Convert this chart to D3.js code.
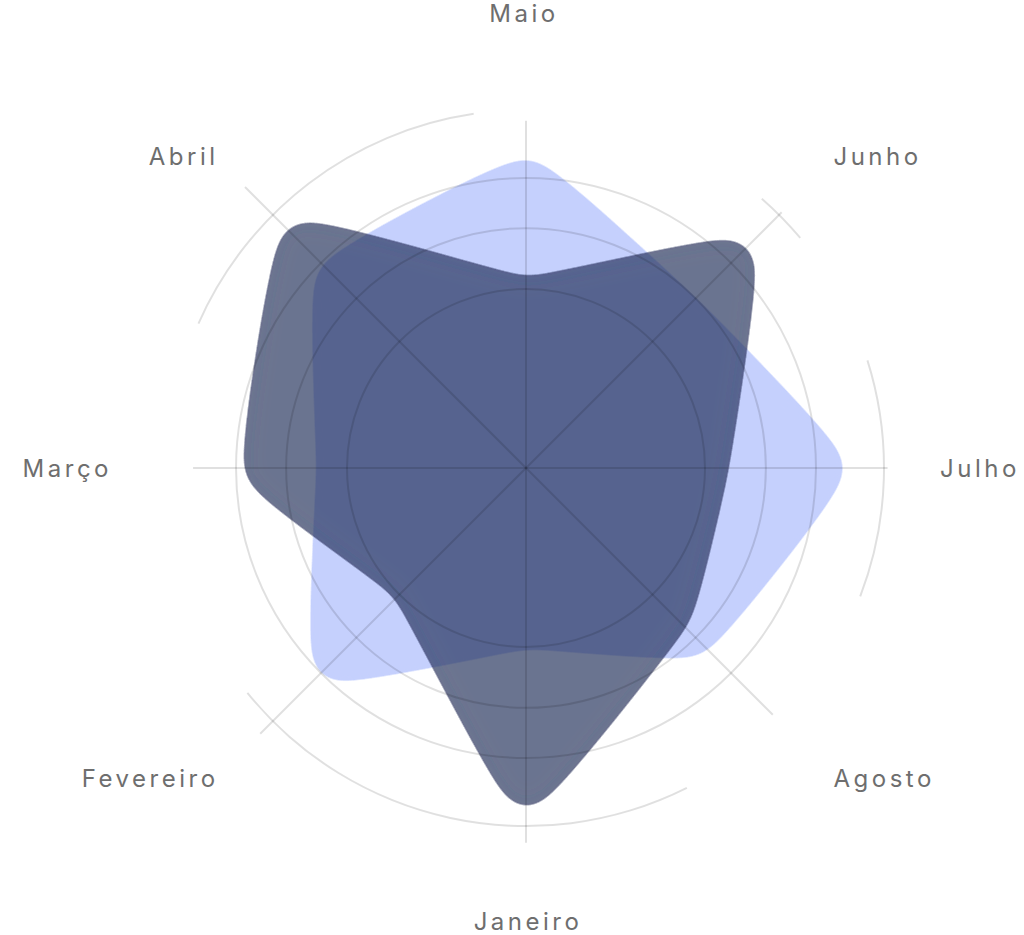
<!DOCTYPE html>
<html><head><meta charset="utf-8">
<script src="https://cdn.jsdelivr.net/npm/d3@7"></script>
<style>html,body{margin:0;padding:0;background:#fff;} svg{display:block;}</style>
</head><body><svg id="chart" width="1024" height="935"></svg>
<script>
// ---- data ----
const months = ["Janeiro","Fevereiro","Março","Abril","Maio","Junho","Julho","Agosto"];
const seriesDark = [88.8, 45.5, 72.8, 88.5, 47.4, 81.5, 50.5, 57.0];
const seriesBlue = [44.6, 75.4, 52.5, 74.5, 80.4, 61.1, 82.9, 65.9];
const ringValues = [50, 67, 81];
const outerRingValue = 100;
const outerRingArcs = [[-66.2, -8.4], [41.2, 50], [72.5, 111], [153.3, 231.1]];
const spokeExtent = [104.7, 105, 93, 111, 97, 101, 101, 97.5];

// ---- layout ----
const cx = 526, cy = 468;
const svg = d3.select("#chart");

// soft-corner filter (blur + alpha threshold) to smooth inner bends
const defs = svg.append("defs");
const flt = defs.append("filter").attr("id", "soft")
  .attr("filterUnits", "userSpaceOnUse")
  .attr("x", -600).attr("y", -520).attr("width", 1200).attr("height", 1040);
flt.append("feGaussianBlur").attr("in", "SourceGraphic").attr("stdDeviation", 11);
flt.append("feColorMatrix").attr("type", "matrix")
  .attr("values", "1 0 0 0 0  0 1 0 0 0  0 0 1 0 0  0 0 0 18 -8.6");

const g = svg.append("g").attr("transform", `translate(${cx},${cy})`);

const r = d3.scaleLinear().domain([0, 100]).range([0, 358]);
const angle = d3.scaleLinear().domain([0, months.length]).range([Math.PI, 3 * Math.PI]);

const radial = d3.lineRadial()
  .angle((d, i) => angle(i))
  .radius(d => r(d))
  .curve(d3.curveCardinalClosed.tension(0.75));

function area(values, color, opacity) {
  g.append("g").attr("opacity", opacity)
    .append("path").datum(values)
    .attr("d", radial)
    .attr("fill", color)
    .attr("stroke", color)
    .attr("stroke-width", 44)
    .attr("stroke-linejoin", "round")
    .attr("filter", "url(#soft)");
}
area(seriesBlue, "#5b7cfa", 0.35);
area(seriesDark, "#1f2c55", 0.65);

// grid
const gridColor = "rgba(0,0,0,0.12)";
g.selectAll("circle.ring").data(ringValues).join("circle")
  .attr("class", "ring").attr("r", d => r(d))
  .attr("fill", "none").attr("stroke", gridColor).attr("stroke-width", 2);

const arcGen = d3.arc()
  .innerRadius(r(outerRingValue) - 1)
  .outerRadius(r(outerRingValue) + 1)
  .startAngle(d => d[0] * Math.PI / 180)
  .endAngle(d => d[1] * Math.PI / 180);
g.selectAll("path.outer").data(outerRingArcs).join("path")
  .attr("class", "outer").attr("d", arcGen).attr("fill", gridColor);

g.selectAll("line.spoke").data(spokeExtent).join("line")
  .attr("class", "spoke")
  .attr("x1", 0).attr("y1", 0)
  .attr("x2", (d, i) => Math.sin(angle(i)) * r(d))
  .attr("y2", (d, i) => -Math.cos(angle(i)) * r(d))
  .attr("stroke", gridColor).attr("stroke-width", 2);

// labels
const labelR = 432;
g.selectAll("text.lbl").data(months).join("text")
  .attr("class", "lbl")
  .attr("x", (d, i) => {
    const s = Math.sin(angle(i));
    const x = s * labelR;
    return Math.abs(Math.cos(angle(i))) < 0.01 ? x - Math.sign(s) * 18 : x + Math.sign(s) * 2;
  })
  .attr("y", (d, i) => {
    const c = Math.cos(angle(i));
    const y = -c * labelR;
    if (Math.abs(c) < 0.01) return y + 9;
    if (Math.abs(Math.abs(c) - 1) < 0.01) return c > 0 ? y - 14 : y + 30;
    return c > 0 ? y + 2 : y + 14;
  })
  .attr("text-anchor", (d, i) => {
    const s = Math.sin(angle(i));
    return Math.abs(s) < 0.01 ? "middle" : (s > 0 ? "start" : "end");
  })
  .attr("font-family", "Inter, 'Open Sans', sans-serif")
  .attr("font-size", 24)
  .attr("font-weight", 400)
  .attr("letter-spacing", 3.5)
  .attr("fill", "#6e6e6e")
  .text(d => d);
</script></body></html>
